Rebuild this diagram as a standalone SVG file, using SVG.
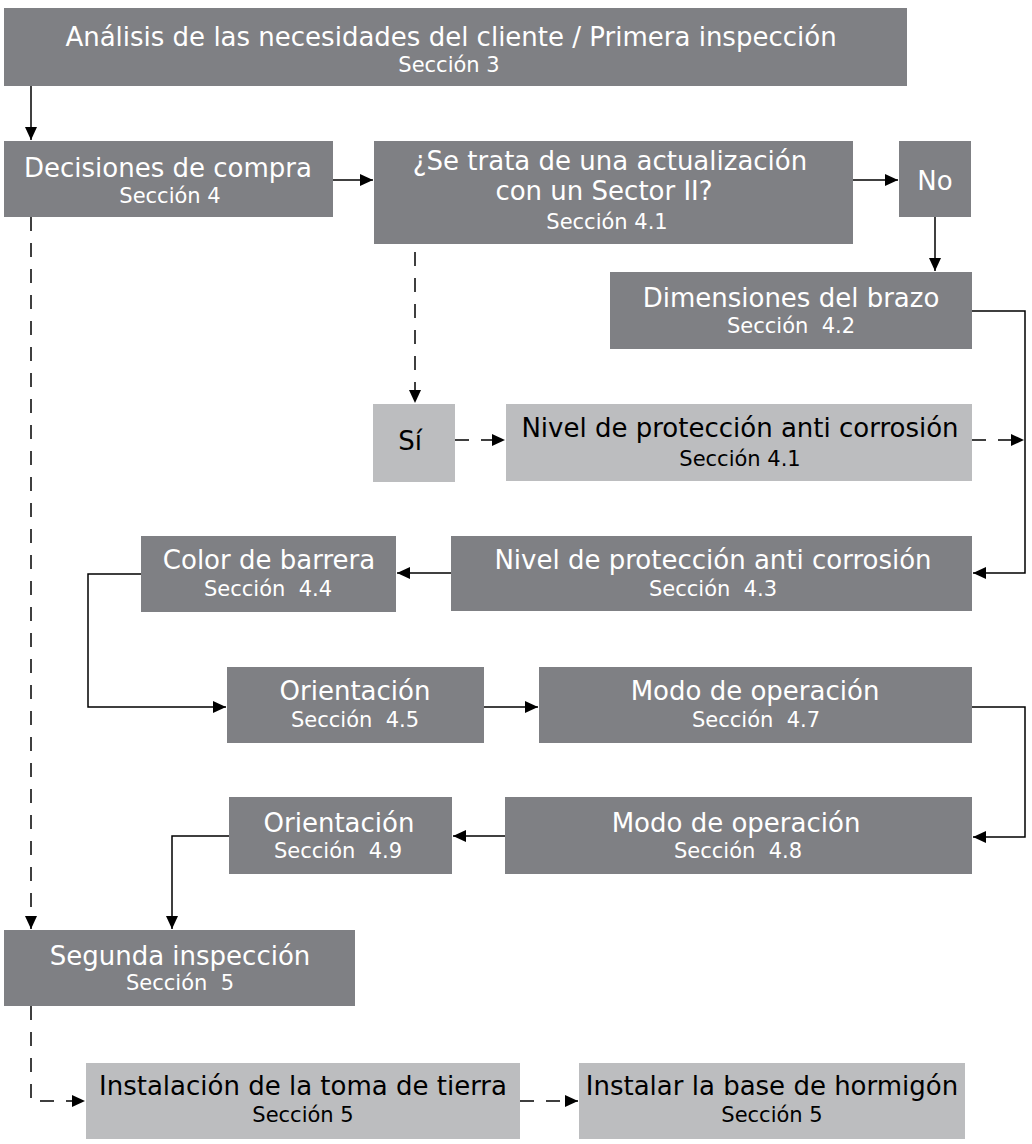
<svg xmlns="http://www.w3.org/2000/svg" width="1032" height="1144" viewBox="0 0 1032 1144">
<style>
.d{fill:#7f8084}
.l{fill:#bcbdbf}
.t{font-family:"DejaVu Sans","Liberation Sans",sans-serif;font-size:26px;text-anchor:middle}
.s{font-family:"DejaVu Sans","Liberation Sans",sans-serif;font-size:21px;text-anchor:middle}
.w{fill:#ffffff}
.k{fill:#000000}
.c{fill:none;stroke:#000;stroke-width:1.5}
.dash{stroke-dasharray:14 12}
</style>
<defs>
<marker id="ah" markerUnits="userSpaceOnUse" markerWidth="14" markerHeight="12" refX="13" refY="6" orient="auto">
<path d="M0,0 L13,6 L0,12 z" fill="#000"/>
</marker>
</defs>
<rect width="1032" height="1144" fill="#fff"/>
<g id="connectors">
<path class="c" d="M31,86 V140" marker-end="url(#ah)"/>
<path class="c" d="M333,180 H373" marker-end="url(#ah)"/>
<path class="c" d="M853,180 H898" marker-end="url(#ah)"/>
<path class="c" d="M935,217 V271" marker-end="url(#ah)"/>
<path class="c" d="M972,311 H1025 V573 H973" marker-end="url(#ah)"/>
<path class="c dash" d="M415,252 V403" marker-end="url(#ah)"/>
<path class="c dash" d="M455,440 H505" marker-end="url(#ah)"/>
<path class="c dash" d="M972,440 H1024" marker-end="url(#ah)"/>
<path class="c" d="M451,573 H397" marker-end="url(#ah)"/>
<path class="c" d="M141,574 H88 V707 H226" marker-end="url(#ah)"/>
<path class="c" d="M484,707 H538" marker-end="url(#ah)"/>
<path class="c" d="M972,707 H1025 V837 H973" marker-end="url(#ah)"/>
<path class="c" d="M505,836 H453" marker-end="url(#ah)"/>
<path class="c" d="M229,836 H172 V929" marker-end="url(#ah)"/>
<path class="c dash" d="M31,217 V929" marker-end="url(#ah)"/>
<path class="c dash" d="M31,1006 V1101 H85" marker-end="url(#ah)"/>
<path class="c dash" d="M520,1101 H578" marker-end="url(#ah)"/>
</g>
<g id="n-analisis">
<rect class="d" x="4" y="8" width="903" height="78"/>
<text class="t w" x="451" y="46">Análisis de las necesidades del cliente / Primera inspección</text>
<text class="s w" x="449" y="72">Sección 3</text>
</g>
<g id="n-decisiones">
<rect class="d" x="4" y="141" width="329" height="76"/>
<text class="t w" x="168" y="177">Decisiones de compra</text>
<text class="s w" x="170" y="203">Sección 4</text>
</g>
<g id="n-setrata">
<rect class="d" x="374" y="141" width="479" height="103"/>
<text class="t w" x="610" y="170">¿Se trata de una actualización</text>
<text class="t w" x="604" y="200">con un Sector II?</text>
<text class="s w" x="607" y="229">Sección 4.1</text>
</g>
<g id="n-no">
<rect class="d" x="899" y="141" width="72" height="76"/>
<text class="t w" x="935" y="190">No</text>
</g>
<g id="n-dimensiones">
<rect class="d" x="610" y="272" width="362" height="77"/>
<text class="t w" x="791" y="307">Dimensiones del brazo</text>
<text class="s w" x="791" y="333" xml:space="preserve">Sección  4.2</text>
</g>
<g id="n-si">
<rect class="l" x="373" y="404" width="82" height="78"/>
<text class="t k" x="410" y="450">Sí</text>
</g>
<g id="n-nivel41">
<rect class="l" x="506" y="404" width="466" height="77"/>
<text class="t k" x="740" y="437">Nivel de protección anti corrosión</text>
<text class="s k" x="740" y="466">Sección 4.1</text>
</g>
<g id="n-nivel43">
<rect class="d" x="451" y="536" width="521" height="75"/>
<text class="t w" x="713" y="569">Nivel de protección anti corrosión</text>
<text class="s w" x="713" y="596" xml:space="preserve">Sección  4.3</text>
</g>
<g id="n-color">
<rect class="d" x="141" y="536" width="255" height="76"/>
<text class="t w" x="269" y="569">Color de barrera</text>
<text class="s w" x="268" y="596" xml:space="preserve">Sección  4.4</text>
</g>
<g id="n-orient45">
<rect class="d" x="227" y="667" width="257" height="76"/>
<text class="t w" x="355" y="700">Orientación</text>
<text class="s w" x="355" y="727" xml:space="preserve">Sección  4.5</text>
</g>
<g id="n-modo47">
<rect class="d" x="539" y="667" width="433" height="76"/>
<text class="t w" x="755" y="700">Modo de operación</text>
<text class="s w" x="756" y="727" xml:space="preserve">Sección  4.7</text>
</g>
<g id="n-modo48">
<rect class="d" x="505" y="797" width="467" height="77"/>
<text class="t w" x="736" y="832">Modo de operación</text>
<text class="s w" x="738" y="858" xml:space="preserve">Sección  4.8</text>
</g>
<g id="n-orient49">
<rect class="d" x="229" y="797" width="223" height="77"/>
<text class="t w" x="339" y="832">Orientación</text>
<text class="s w" x="338" y="858" xml:space="preserve">Sección  4.9</text>
</g>
<g id="n-segunda">
<rect class="d" x="4" y="930" width="351" height="76"/>
<text class="t w" x="180" y="965">Segunda inspección</text>
<text class="s w" x="180" y="990" xml:space="preserve">Sección  5</text>
</g>
<g id="n-instalacion">
<rect class="l" x="86" y="1063" width="434" height="76"/>
<text class="t k" x="303" y="1095">Instalación de la toma de tierra</text>
<text class="s k" x="303" y="1122">Sección 5</text>
</g>
<g id="n-instalar">
<rect class="l" x="579" y="1063" width="386" height="76"/>
<text class="t k" x="772" y="1095">Instalar la base de hormigón</text>
<text class="s k" x="772" y="1122">Sección 5</text>
</g>
</svg>
